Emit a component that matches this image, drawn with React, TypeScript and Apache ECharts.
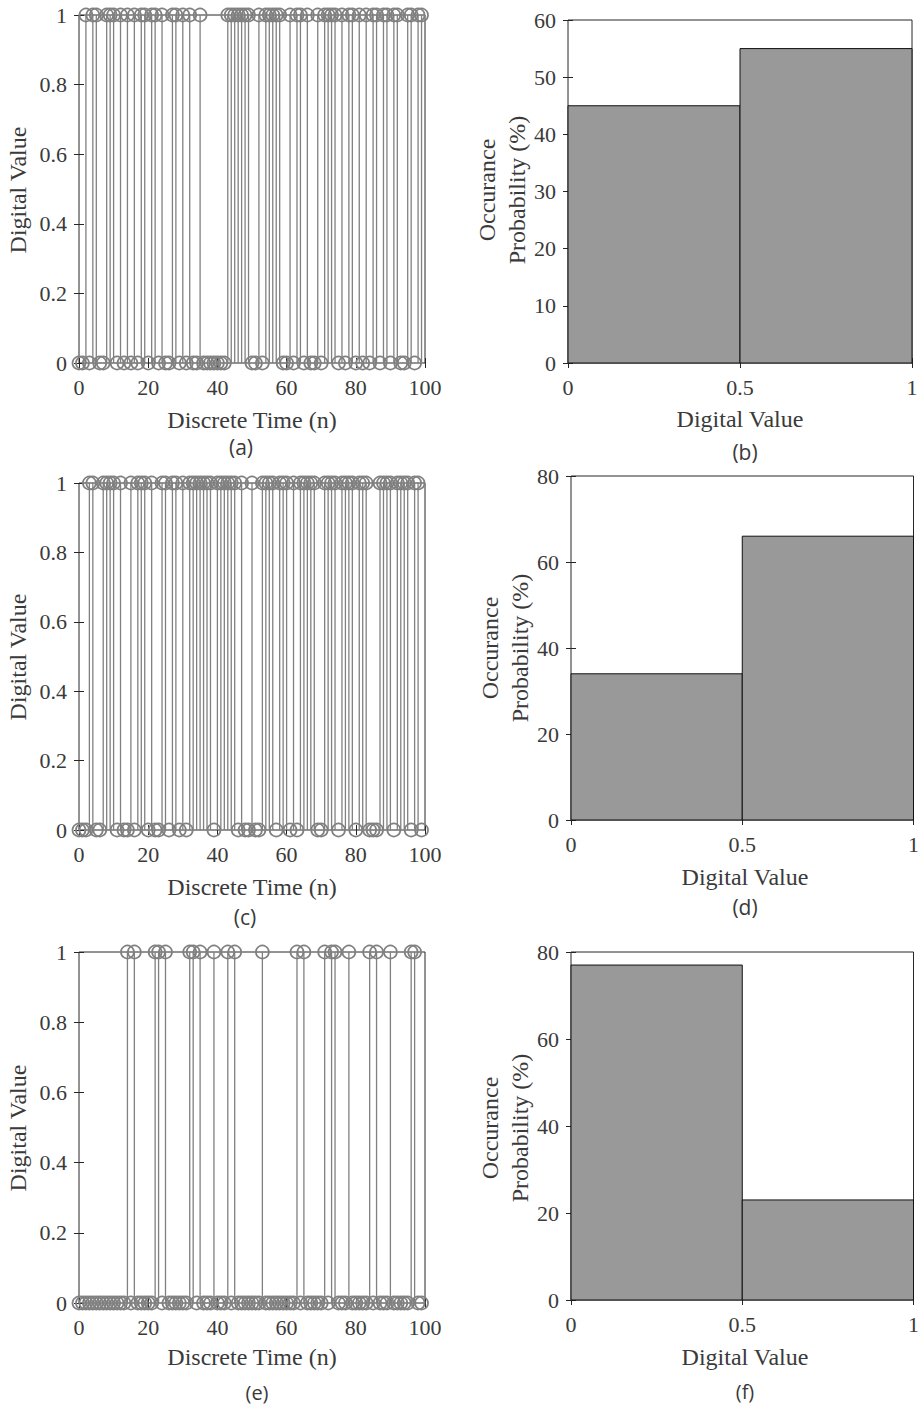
import React, { useEffect, useRef } from "react";
import * as echarts from "echarts";

// Digital sequences (n = 0..99)
const seqA = [
  0, 0, 1, 0, 1, 1, 0, 0, 1, 1,
  1, 0, 1, 0, 1, 0, 1, 0, 1, 1,
  0, 1, 1, 0, 1, 0, 0, 1, 1, 0,
  1, 0, 1, 0, 0, 1, 0, 0, 0, 0,
  0, 0, 0, 1, 1, 1, 1, 1, 1, 1,
  0, 0, 1, 0, 1, 1, 1, 1, 1, 0,
  0, 1, 0, 1, 1, 0, 1, 0, 0, 1,
  0, 1, 1, 1, 1, 0, 1, 0, 1, 1,
  0, 1, 0, 1, 0, 1, 1, 0, 1, 1,
  0, 1, 1, 0, 0, 1, 1, 0, 1, 1,
];
const seqC = [
  0, 0, 0, 1, 1, 0, 0, 1, 1, 1,
  1, 0, 1, 0, 0, 1, 0, 1, 1, 1,
  0, 1, 0, 0, 1, 1, 0, 1, 1, 0,
  1, 0, 1, 1, 1, 1, 1, 1, 1, 0,
  1, 1, 1, 1, 1, 1, 0, 1, 0, 0,
  1, 0, 0, 1, 1, 1, 1, 0, 1, 1,
  1, 0, 1, 0, 1, 1, 1, 1, 1, 0,
  0, 1, 1, 1, 1, 0, 1, 1, 1, 1,
  0, 1, 1, 1, 0, 0, 0, 1, 1, 1,
  1, 0, 1, 1, 1, 1, 0, 1, 1, 0,
];
const seqE = [
  0, 0, 0, 0, 0, 0, 0, 0, 0, 0,
  0, 0, 0, 0, 1, 0, 1, 0, 0, 0,
  0, 0, 1, 1, 0, 1, 0, 0, 0, 0,
  0, 0, 1, 1, 0, 1, 0, 0, 0, 1,
  0, 0, 0, 1, 0, 1, 0, 0, 0, 0,
  0, 0, 0, 1, 0, 0, 0, 0, 0, 0,
  0, 0, 0, 1, 0, 1, 0, 0, 0, 0,
  0, 1, 0, 1, 1, 0, 0, 0, 1, 0,
  0, 0, 0, 0, 1, 0, 1, 0, 0, 0,
  1, 0, 0, 0, 0, 0, 1, 1, 0, 0,
];

// Histograms: bin edges and occurrence probabilities (%)
const binEdges = [0, 0.5, 1];
const histB = [45, 55];
const histD = [34, 66];
const histF = [77, 23];

const histMax = [60, 80, 80];
const histStep = [10, 20, 20];

const SERIF = '"Liberation Serif", "Times New Roman", serif';
const SANS = '"Open Sans", "Noto Sans", sans-serif';
const AX = "#262626";
const TXT = "#3a3a3a";
const GRAY = "#808080";

const stemGrids = [
  { left: 79, top: 15, width: 346, height: 348 },
  { left: 79, top: 483, width: 346, height: 347 },
  { left: 79, top: 952, width: 346, height: 351 },
];
const histGrids = [
  { left: 568, top: 20, width: 344, height: 343 },
  { left: 571, top: 476, width: 345, height: 344 },
  { left: 571, top: 952, width: 345, height: 348 },
];

function buildOption() {
  const grids: any[] = [];
  const xAxes: any[] = [];
  const yAxes: any[] = [];
  const series: any[] = [];

  const tickStyle = { inside: true, length: 5, lineStyle: { color: AX, width: 1 } };
  const labelStyle = (margin: number) => ({
    color: TXT,
    fontFamily: SERIF,
    fontSize: 22,
    margin,
  });

  const allGrids = [...stemGrids, ...histGrids];
  allGrids.forEach((g) => {
    grids.push({
      ...g,
      show: true,
      borderColor: AX,
      borderWidth: 1,
      backgroundColor: "transparent",
      containLabel: false,
    });
  });

  // bottom x / left y axes
  allGrids.forEach((_, i) => {
    const isStem = i < 3;
    const h = i - 3;
    xAxes.push({
      type: "value",
      gridIndex: i,
      min: 0,
      max: isStem ? 100 : 1,
      interval: isStem ? 20 : 0.5,
      axisLine: { show: false },
      axisTick: tickStyle,
      splitLine: { show: false },
      axisLabel: labelStyle(13),
    });
    yAxes.push({
      type: "value",
      gridIndex: i,
      min: 0,
      max: isStem ? 1 : histMax[h],
      interval: isStem ? 0.2 : histStep[h],
      axisLine: { show: false },
      axisTick: tickStyle,
      splitLine: { show: false },
      axisLabel: labelStyle(12),
    });
  });
  // mirrored top x / right y axes (ticks only)
  allGrids.forEach((_, i) => {
    const isStem = i < 3;
    const h = i - 3;
    xAxes.push({
      type: "value",
      gridIndex: i,
      position: "top",
      min: 0,
      max: isStem ? 100 : 1,
      interval: isStem ? 20 : 0.5,
      axisLine: { show: false },
      axisTick: tickStyle,
      splitLine: { show: false },
      axisLabel: { show: false },
    });
    yAxes.push({
      type: "value",
      gridIndex: i,
      position: "right",
      min: 0,
      max: isStem ? 1 : histMax[h],
      interval: isStem ? 0.2 : histStep[h],
      axisLine: { show: false },
      axisTick: tickStyle,
      splitLine: { show: false },
      axisLabel: { show: false },
    });
  });

  const seqs = [seqA, seqC, seqE];
  seqs.forEach((seq, i) => {
    series.push({
      type: "custom",
      xAxisIndex: i,
      yAxisIndex: i,
      clip: false,
      z: 5,
      data: seq.map((v, n) => [n, v]),
      renderItem: (_params: any, api: any) => {
        const x = api.value(0);
        const v = api.value(1);
        const p0 = api.coord([x, 0]);
        const p1 = api.coord([x, v]);
        const children: any[] = [];
        if (v !== 0) {
          children.push({
            type: "line",
            shape: { x1: p0[0], y1: p0[1], x2: p1[0], y2: p1[1] },
            style: { stroke: GRAY, lineWidth: 1.3 },
          });
        }
        children.push({
          type: "circle",
          shape: { cx: p1[0], cy: p1[1], r: 6.5 },
          style: { fill: "none", stroke: GRAY, lineWidth: 1.7 },
        });
        return { type: "group", children };
      },
    });
  });

  const hists = [histB, histD, histF];
  hists.forEach((hv, h) => {
    const i = h + 3;
    series.push({
      type: "custom",
      xAxisIndex: i,
      yAxisIndex: i,
      z: 1,
      data: hv.map((v, k) => [binEdges[k], binEdges[k + 1], v]),
      renderItem: (_params: any, api: any) => {
        const a = api.coord([api.value(0), api.value(2)]);
        const b = api.coord([api.value(1), 0]);
        return {
          type: "rect",
          shape: { x: a[0], y: a[1], width: b[0] - a[0], height: b[1] - a[1] },
          style: { fill: "#999999", stroke: "#111111", lineWidth: 1 },
        };
      },
    });
  });

  const txt = (x: number, y: number, text: string, font: string, size: number, rot = 0, lh = 0) => ({
    type: "text",
    x,
    y,
    rotation: rot,
    z: 10,
    style: {
      text,
      fontFamily: font,
      fontSize: size,
      fill: TXT,
      align: "center",
      verticalAlign: "middle",
      lineHeight: lh || undefined,
    },
  });

  const R = Math.PI / 2;
  const graphic = [
    // (a)
    txt(252, 420, "Discrete Time (n)", SERIF, 24),
    txt(241, 447, "(a)", SANS, 21),
    txt(18, 190, "Digital Value", SERIF, 24, R),
    // (b)
    txt(740, 419, "Digital Value", SERIF, 24),
    txt(745, 452, "(b)", SANS, 21),
    txt(502, 190, "Occurance\nProbability (%)", SERIF, 24, R, 30),
    // (c)
    txt(252, 887, "Discrete Time (n)", SERIF, 24),
    txt(245, 917, "(c)", SANS, 21),
    txt(18, 657, "Digital Value", SERIF, 24, R),
    // (d)
    txt(745, 877, "Digital Value", SERIF, 24),
    txt(745, 907, "(d)", SANS, 21),
    txt(505, 648, "Occurance\nProbability (%)", SERIF, 24, R, 30),
    // (e)
    txt(252, 1357, "Discrete Time (n)", SERIF, 24),
    txt(257, 1392, "(e)", SANS, 20),
    txt(18, 1128, "Digital Value", SERIF, 24, R),
    // (f)
    txt(745, 1357, "Digital Value", SERIF, 24),
    txt(745, 1391, "(f)", SANS, 20),
    txt(505, 1128, "Occurance\nProbability (%)", SERIF, 24, R, 30),
  ];

  return {
    animation: false,
    backgroundColor: "#ffffff",
    grid: grids,
    xAxis: xAxes,
    yAxis: yAxes,
    series,
    graphic,
  };
}

export default function App() {
  const ref = useRef<HTMLDivElement>(null);
  useEffect(() => {
    if (!ref.current) return;
    const chart = echarts.init(ref.current, undefined, { renderer: "svg" });
    chart.setOption(buildOption() as any);
    return () => chart.dispose();
  }, []);
  return (
    <div
      ref={ref}
      style={{ position: "absolute", left: 0, top: 0, width: 922, height: 1407 }}
    />
  );
}
